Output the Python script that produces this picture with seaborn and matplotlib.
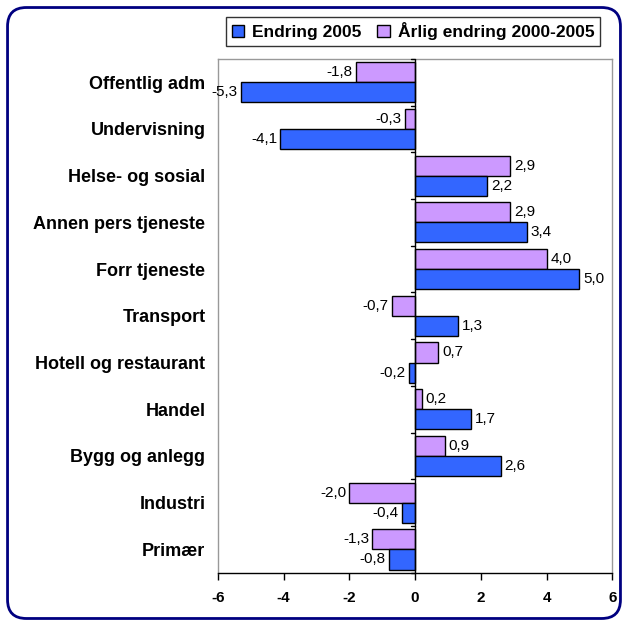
import pandas as pd
import matplotlib.pyplot as plt
import seaborn as sns
from matplotlib.patches import FancyBboxPatch, Patch

# Data
sectors = ["Offentlig adm", "Undervisning", "Helse- og sosial", "Annen pers tjeneste",
           "Forr tjeneste", "Transport", "Hotell og restaurant", "Handel",
           "Bygg og anlegg", "Industri", "Primær"]
change_2005 = [-5.3, -4.1, 2.2, 3.4, 5.0, 1.3, -0.2, 1.7, 2.6, -0.4, -0.8]
annual_change = [-1.8, -0.3, 2.9, 2.9, 4.0, -0.7, 0.7, 0.2, 0.9, -2.0, -1.3]

s1 = "Endring 2005"
s2 = "Årlig endring 2000-2005"
colors = {s1: "#3366FF", s2: "#CC99FF"}

df = pd.DataFrame({
    "Sektor": sectors * 2,
    "Verdi": change_2005 + annual_change,
    "Serie": [s1] * len(sectors) + [s2] * len(sectors),
})

sns.set_style("white")
plt.rcParams["font.family"] = ["Liberation Sans", "DejaVu Sans"]
plt.rcParams["text.color"] = "black"
plt.rcParams["xtick.color"] = "black"
plt.rcParams["ytick.color"] = "black"

fig = plt.figure(figsize=(6.28, 6.26), dpi=100)
ax = fig.add_axes([0.347, 0.085, 0.628, 0.821])

sns.barplot(data=df, y="Sektor", x="Verdi", hue="Serie", orient="h",
            order=sectors, hue_order=[s2, s1], palette=colors, saturation=1,
            width=0.86, edgecolor="black", linewidth=1, ax=ax, legend=False)

# value labels
for cont in ax.containers:
    for bar in cont:
        v = bar.get_width()
        yc = bar.get_y() + bar.get_height() / 2
        txt = f"{v:.1f}".replace(".", ",")
        if v >= 0:
            ax.text(v + 0.12, yc, txt, ha="left", va="center", fontsize=11)
        else:
            ax.text(v - 0.1, yc, txt, ha="right", va="center", fontsize=11)

ax.set_xlim(-6, 6)
ax.set_ylim(len(sectors) - 0.5, -0.5)
ax.set_xticks(range(-6, 7, 2))
ax.set_xticklabels([str(t) for t in range(-6, 7, 2)], fontweight="bold", fontsize=11)
ax.tick_params(axis="x", direction="out", length=5, width=1, color="black", bottom=True, pad=8)
ax.set_yticks(range(len(sectors)))
ax.set_yticklabels(sectors, fontweight="bold", fontsize=13)
ax.tick_params(axis="y", length=0, pad=9)
ax.set_xlabel("")
ax.set_ylabel("")

for side in ["top", "right", "left"]:
    ax.spines[side].set_color("#999999")
    ax.spines[side].set_linewidth(1)
ax.spines["bottom"].set_color("black")
ax.spines["bottom"].set_linewidth(1)

# zero axis with tick marks between categories
ax.axvline(0, color="black", lw=1, zorder=3)
for i in range(len(sectors) + 1):
    ax.plot([-0.13, 0], [i - 0.5, i - 0.5], color="black", lw=1, zorder=3, clip_on=False)

# legend
handles = [Patch(facecolor=colors[s1], edgecolor="black", label=s1),
           Patch(facecolor=colors[s2], edgecolor="black", label=s2)]
leg = fig.legend(handles=handles, loc="center", bbox_to_anchor=(0.658, 0.95), ncol=2,
                 frameon=True, fancybox=False, edgecolor="black",
                 prop={"weight": "bold", "size": 12.5},
                 handlelength=0.7, handleheight=0.7, handletextpad=0.5,
                 columnspacing=0.9, borderpad=0.3, borderaxespad=0)
leg.get_frame().set_linewidth(1)

# outer rounded frame
frame = FancyBboxPatch((0.012, 0.012), 0.976, 0.976, boxstyle="round,pad=0,rounding_size=0.03",
                       transform=fig.transFigure, fill=False, edgecolor="#000080", lw=2)
fig.patches.append(frame)

fig.savefig("out.png", dpi=100)
